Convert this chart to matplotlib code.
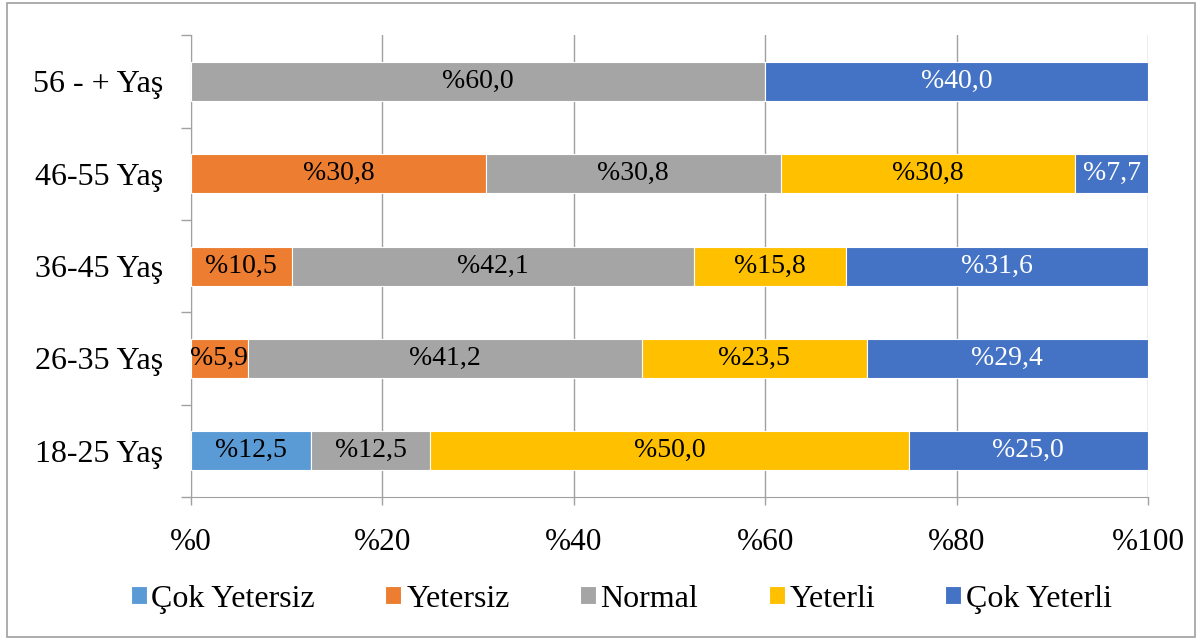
import numpy as np
from matplotlib import pyplot as plt
from matplotlib.patches import Rectangle

plt.rcParams['font.family'] = ['Liberation Serif', 'DejaVu Serif']

groups = ["18-25 Yaş", "26-35 Yaş", "36-45 Yaş", "46-55 Yaş", "56 - + Yaş"]
levels = ["Çok Yetersiz", "Yetersiz", "Normal", "Yeterli", "Çok Yeterli"]
cok_yetersiz = [12.5, 0, 0, 0, 0]
yetersiz = [0, 5.9, 10.5, 30.8, 0]
normal = [12.5, 41.2, 42.1, 30.8, 60.0]
yeterli = [50.0, 23.5, 15.8, 30.8, 0]
cok_yeterli = [25.0, 29.4, 31.6, 7.7, 40.0]
colors = ["#5B9BD5", "#ED7D31", "#A5A5A5", "#FFC000", "#4472C4"]
text_colors = ["black", "black", "black", "black", "white"]
xticks = [0, 20, 40, 60, 80, 100]

series = [cok_yetersiz, yetersiz, normal, yeterli, cok_yeterli]

fig = plt.figure(figsize=(12.02, 6.40), dpi=100)
ax = fig.add_axes([0.159, 0.2234, 0.796, 0.7216])

y = np.arange(len(groups))
left = np.zeros(len(groups))
for vals, name, c, tc in zip(series, levels, colors, text_colors):
    vals = np.array(vals)
    bars = ax.barh(y, vals, left=left, height=0.42, color=c, label=name,
                   edgecolor="white", linewidth=0.8, zorder=3)
    for b, v in zip(bars, vals):
        if v > 0:
            ax.text(b.get_x() + b.get_width() / 2, b.get_y() + b.get_height() / 2,
                    "%" + f"{v:.1f}".replace(".", ","), ha="center", va="center",
                    color=tc, fontsize=20, zorder=4)
    left = left + vals

ax.set_xlim(0, 100)
ax.set_ylim(-0.5, len(groups) - 0.5)
ax.set_xticks(xticks)
ax.set_xticklabels(["%" + str(t) for t in xticks], fontsize=22.5)
ax.set_yticks(y)
ax.set_yticklabels(groups, fontsize=23)
ax.set_yticks(np.arange(-0.5, len(groups), 1), minor=True)
ax.tick_params(axis="y", which="major", length=0, pad=20)
ax.tick_params(axis="y", which="minor", length=7, color="#A0A0A0", width=1)
ax.tick_params(axis="x", length=6, color="#A0A0A0", width=1, pad=16)
ax.grid(axis="x", color="#A0A0A0", linewidth=1, zorder=0)
for s in ["top", "right"]:
    ax.spines[s].set_visible(False)
for s in ["left", "bottom"]:
    ax.spines[s].set_color("#A0A0A0")

fig.legend(loc="center", bbox_to_anchor=(0.517, 0.064), ncol=5, frameon=False,
           fontsize=23, handlelength=0.5, handleheight=0.5, handletextpad=0.15,
           columnspacing=2.2)

fig.patches.append(Rectangle((0.006, 0.005), 0.988, 0.99, transform=fig.transFigure,
                             fill=False, edgecolor="#A0A0A0", linewidth=1.2))

fig.savefig("out.png", dpi=100)
